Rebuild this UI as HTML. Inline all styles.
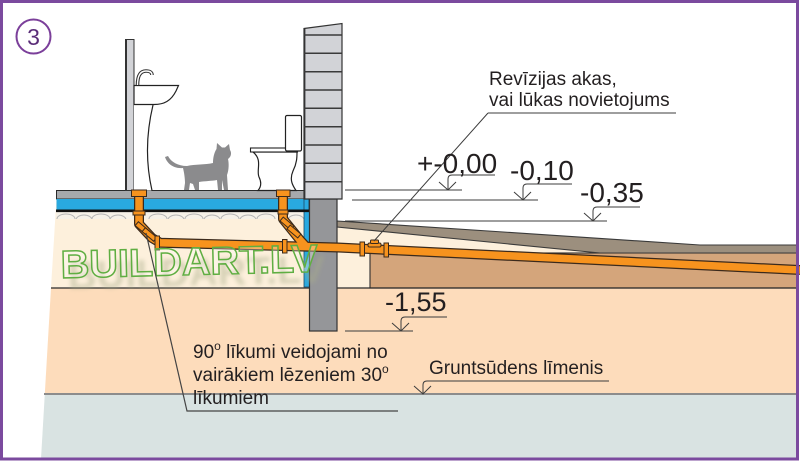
<!DOCTYPE html>
<html><head><meta charset="utf-8"><style>
html,body{margin:0;padding:0;background:#fff;}
svg{display:block;}
text{font-family:"Liberation Sans",Arial,sans-serif;fill:#231f20;}
</style></head><body>
<svg width="800" height="461" viewBox="0 0 800 461" xmlns="http://www.w3.org/2000/svg">
<defs>
<clipPath id="gv"><rect x="56" y="212" width="250" height="7"/></clipPath>
<filter id="bl" x="-10%" y="-50%" width="120%" height="200%"><feGaussianBlur stdDeviation="2.2"/></filter>
</defs>
<rect x="0" y="0" width="800" height="461" fill="#fff"/>

<!-- ground layers -->
<polygon points="51,288 797,288 797,394 44.8,394" fill="#fddcbb"/>
<polygon points="44.8,394 797,394 797,459 41,459" fill="#d9e3e2"/>
<polygon points="56.5,198 310,198 310,288 51,288" fill="#fdf0dc"/>
<polygon points="337,226 797,253 797,288 337,288" fill="#fdf0dc"/>
<rect x="370" y="253" width="427" height="35" fill="#d4a57b" stroke="#2e2e2e" stroke-width="1.1"/>
<polygon points="337,221 700,245 797,245 797,253 600,253 337,227" fill="#9c8f7e" stroke="#3a3a3a" stroke-width="1.1"/>
<line x1="51" y1="288" x2="797" y2="288" stroke="#2b2b2b" stroke-width="1.3"/>
<line x1="44" y1="394" x2="797" y2="394" stroke="#8c8c8c" stroke-width="2"/>

<!-- gravel -->
<rect x="56.5" y="212" width="250" height="7" fill="#f5f1e8"/>
<g clip-path="url(#gv)" fill="none" stroke="#b5b5b5" stroke-width="1">
<ellipse cx="66" cy="219" rx="9" ry="5"/><ellipse cx="84" cy="220" rx="8" ry="5"/><ellipse cx="101" cy="219" rx="9" ry="5"/>
<ellipse cx="118" cy="220" rx="8" ry="5"/><ellipse cx="158" cy="219" rx="9" ry="5"/><ellipse cx="176" cy="220" rx="8" ry="5"/>
<ellipse cx="194" cy="219" rx="9" ry="5"/><ellipse cx="212" cy="220" rx="8" ry="5"/><ellipse cx="230" cy="219" rx="9" ry="5"/>
<ellipse cx="248" cy="220" rx="8" ry="5"/><ellipse cx="266" cy="219" rx="9" ry="5"/><ellipse cx="296" cy="220" rx="8" ry="5"/>
</g>

<!-- floor slab -->
<rect x="56.5" y="190.5" width="248" height="8.5" fill="#a7a9ac" stroke="#2a2a2a" stroke-width="1"/>
<rect x="56.5" y="199" width="248" height="10.5" fill="#29a9e0"/>
<rect x="304" y="199" width="5.5" height="88" fill="#29a9e0" stroke="#1d4a66" stroke-width="0.8"/>
<path d="M56,210.8 H310 V199" fill="none" stroke="#111" stroke-width="2.6"/>

<!-- foundation and wall -->
<rect x="309.5" y="199" width="27.5" height="132" fill="#959699" stroke="#333" stroke-width="1.2"/>
<polygon points="304,28.5 342,23.5 342,199 304,199" fill="#d2d3d7" stroke="#333" stroke-width="1.2"/>
<line x1="304.5" y1="28.5" x2="304.5" y2="199" stroke="#333" stroke-width="1.8"/>
<g stroke="#3a3a3a" stroke-width="1.5">
<line x1="304" y1="35" x2="342" y2="35"/><line x1="304" y1="53.3" x2="342" y2="53.3"/>
<line x1="304" y1="71.7" x2="342" y2="71.7"/><line x1="304" y1="90" x2="342" y2="90"/>
<line x1="304" y1="108.3" x2="342" y2="108.3"/><line x1="304" y1="126.7" x2="342" y2="126.7"/>
<line x1="304" y1="145" x2="342" y2="145"/><line x1="304" y1="163.3" x2="342" y2="163.3"/>
<line x1="304" y1="181.7" x2="342" y2="181.7"/>
</g>

<!-- sink partition and sink -->
<rect x="125.5" y="39.5" width="8.5" height="151" fill="#d2d3d7" stroke="#333" stroke-width="1"/>
<line x1="126" y1="39.5" x2="126" y2="190.5" stroke="#333" stroke-width="2"/>
<path d="M134,104.5 H153 C147,130 145,160 152,190.5 H134 Z" fill="#fff"/>
<path d="M153,105 C147,130 145,160 152,190.5" fill="none" stroke="#222" stroke-width="1.2"/>
<path d="M134,85.5 H178.5 L176,91 C171,101 164,104.5 154,104.5 H134 Z" fill="#fff" stroke="#222" stroke-width="1.2"/>
<path d="M137.5,85 C137.5,76 140,71 146,71 C150,71 152,72.5 152,75" fill="none" stroke="#333" stroke-width="3.6"/>
<path d="M137.5,85 C137.5,76 140,71 146,71 C150,71 152,72.5 152,75" fill="none" stroke="#fff" stroke-width="1.4"/>

<!-- cat -->
<path d="M165,157 C167,163 173,169 183,168 C184,172 185,178 185,183 L184,190 L189,190 L190,183 L193,184 L195,190 L199,190 L199,182 C205,181 212,181 217,180 L218,190 L222,190 L222,180 L224,190 L228,190 L227,175 C229,170 229,163 228,159 C231,157 232,153 230,150 L229,144 L225,147.5 L222,147.5 L217,143 L216.5,149 C214,153 213,158 213,163 C205,165 195,164 187,166 C178,166 171,162 168,156 Z" fill="#8b8b8d"/>

<!-- toilet -->
<path d="M253,152 C263,160 256,170 259,177 C262,183 261,187 258,190.5 H296 C293,186 289,180 293,171 C297,163 297,157 297,152 Z" fill="#fff" stroke="#222" stroke-width="1.2"/>
<rect x="250.5" y="148" width="47" height="4" fill="#fff" stroke="#222" stroke-width="1.1"/>
<rect x="285.5" y="115.5" width="16" height="35.5" rx="1.5" fill="#fff" stroke="#222" stroke-width="1.2"/>

<!-- pipes -->
<g fill="none" stroke-linejoin="round">
<path d="M139,190 V224 L152,238 L160,242.7 L338,247.5 L800,270" stroke="#3b2a1c" stroke-width="10"/>
<path d="M283,190 V219 L300,240 L306,246.5" stroke="#3b2a1c" stroke-width="10"/>
<path d="M139,190 V224 L152,238 L160,242.7 L338,247.5 L800,270" stroke="#f7931e" stroke-width="7.5"/>
<path d="M283,190 V219 L300,240 L306,246.5" stroke="#f7931e" stroke-width="7.5"/>
</g>
<g fill="#f7931e" stroke="#3b2a1c" stroke-width="1">
<rect x="131.5" y="190" width="15" height="6.5"/>
<rect x="133" y="211" width="12" height="4"/>
<rect x="276.5" y="190" width="13.5" height="6.5"/>
<rect x="278" y="210" width="10" height="4"/>
<rect x="135" y="226" width="15" height="5" transform="rotate(40 142.5 228.5)"/>
<rect x="142" y="232" width="15" height="5" transform="rotate(40 149.5 234.5)"/>
<rect x="280" y="221" width="14" height="5" transform="rotate(40 287 223.5)"/>
<rect x="287" y="229" width="14" height="5" transform="rotate(40 294 231.5)"/>
<rect x="155" y="236" width="4.5" height="14"/>
<rect x="282.5" y="239.5" width="4.5" height="13.5"/>
<rect x="360" y="242" width="4.5" height="14"/>
<rect x="384" y="243" width="4.5" height="14"/>
<rect x="368" y="243" width="13" height="4" rx="1.5"/>
<rect x="370.5" y="240" width="8" height="3.5" rx="1"/>
</g>

<!-- watermark -->
<g transform="rotate(-1.4 61 278)">
<text x="68" y="289" font-size="39" font-weight="bold" textLength="257" lengthAdjust="spacingAndGlyphs" style="fill:#a9ad8a;opacity:0.45" filter="url(#bl)">BUILDART.LV</text>
<text x="61" y="278" font-size="39" font-weight="bold" textLength="257" lengthAdjust="spacingAndGlyphs" style="fill:rgba(255,255,255,0.3);stroke:#5fae42;stroke-width:1.5">BUILDART.LV</text>
</g>

<!-- level lines -->
<g stroke="#3c3c3c" stroke-width="1" fill="none">
<line x1="345" y1="190" x2="462" y2="190"/>
<line x1="352" y1="200" x2="538" y2="200"/>
<line x1="345" y1="221" x2="607" y2="221"/>
<line x1="345" y1="331" x2="413" y2="331"/>
<path d="M439,182 L448,190 L456,182 M448,190 V179 Q448,175 452,175 H495"/>
<path d="M514,192 L523,200 L531,192 M523,200 V188 Q523,184 527,184 H572"/>
<path d="M584,213 L593,221 L601,213 M593,221 V211 Q593,207 597,207 H640"/>
<path d="M392,323 L401,331 L409,323 M401,331 V321 Q401,317 405,317 H447"/>
<path d="M414,386 L423,394 L431,386 M423,394 V385 Q423,381 427,381 H609"/>
<path d="M488,113 H676 M488,113 L374,241"/>
<path d="M146,233 L187,411 H398" stroke="#444" stroke-width="1.2"/>
</g>

<!-- labels -->
<text x="417" y="173" font-size="28">+-0,00</text>
<text x="510" y="180" font-size="28">-0,10</text>
<text x="580" y="202" font-size="28">-0,35</text>
<text x="385" y="311" font-size="27">-1,55</text>
<text x="489" y="85" font-size="19">Revīzijas akas,</text>
<text x="489" y="106" font-size="19">vai lūkas novietojums</text>
<text x="429" y="374" font-size="19">Gruntsūdens līmenis</text>
<text x="193" y="358" font-size="19">90<tspan font-size="12" dy="-8">o</tspan><tspan dy="8"> līkumi veidojami no</tspan></text>
<text x="193" y="381" font-size="19">vairākiem lēzeniem 30<tspan font-size="12" dy="-8">o</tspan></text>
<text x="193" y="404" font-size="19">līkumiem</text>

<!-- badge -->
<circle cx="33.5" cy="36.5" r="17" fill="none" stroke="#7b3f9a" stroke-width="2"/>
<text x="33.5" y="45" font-size="23" text-anchor="middle" style="fill:#5a2d78">3</text>

<!-- frame -->
<rect x="1.5" y="1.5" width="796" height="457.5" fill="none" stroke="#7b4a9e" stroke-width="3"/>
</svg>
</body></html>
